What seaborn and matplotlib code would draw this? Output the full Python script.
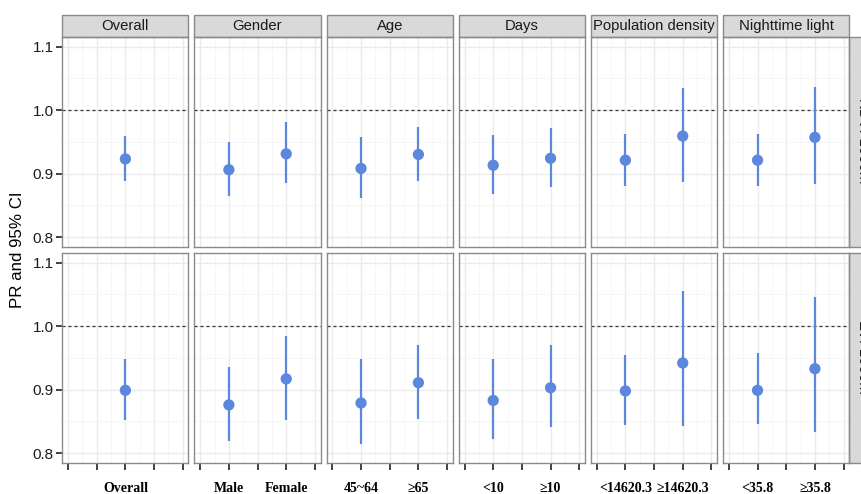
import matplotlib.pyplot as plt
import matplotlib.transforms as mtransforms
from matplotlib.patches import Rectangle
from matplotlib.ticker import FixedLocator
import numpy as np
import pandas as pd
import seaborn as sns

# panels (columns) and their subgroup levels
panels = ["Overall", "Gender", "Age", "Days", "Population density", "Nighttime light"]
levels = [["Overall"], ["Male", "Female"], ["45~64", "≥65"], ["<10", "≥10"],
          ["<14620.3", "≥14620.3"], ["<35.8", "≥35.8"]]
exposures = ["NDVI-1000m", "EVI-1000m"]

# PR and 95% CI, in the order of the flattened levels
ndvi_pr = [0.923, 0.906, 0.931, 0.908, 0.930, 0.913, 0.924, 0.921, 0.959, 0.921, 0.957]
ndvi_lo = [0.889, 0.865, 0.885, 0.861, 0.888, 0.867, 0.878, 0.880, 0.887, 0.880, 0.884]
ndvi_hi = [0.959, 0.949, 0.981, 0.958, 0.974, 0.961, 0.971, 0.963, 1.034, 0.963, 1.037]

evi_pr = [0.899, 0.876, 0.917, 0.879, 0.911, 0.883, 0.903, 0.898, 0.942, 0.899, 0.933]
evi_lo = [0.852, 0.819, 0.853, 0.815, 0.854, 0.823, 0.841, 0.844, 0.843, 0.846, 0.834]
evi_hi = [0.949, 0.936, 0.985, 0.949, 0.971, 0.949, 0.970, 0.955, 1.056, 0.957, 1.046]

values = {"NDVI-1000m": (ndvi_pr, ndvi_lo, ndvi_hi),
          "EVI-1000m": (evi_pr, evi_lo, evi_hi)}

rows = []
for exp in exposures:
    pr, lo, hi = values[exp]
    i = 0
    for p, levs in zip(panels, levels):
        n = len(levs)
        for k, lev in enumerate(levs):
            rows.append(dict(exposure=exp, panel=p, level=lev,
                             pos=3 + 2 * k - (n - 1),
                             pr=pr[i], lo=lo[i], hi=hi[i]))
            i += 1
df = pd.DataFrame(rows)

sns.set_theme(style="white")
plt.rcParams['font.family'] = ['Liberation Sans', 'DejaVu Sans']

W, H = 862, 494
fig = plt.figure(figsize=(W / 100, H / 100), dpi=100)
gs = fig.add_gridspec(2, 6, left=62.3 / W, right=849.3 / W,
                      top=1 - 37 / H, bottom=1 - 462.7 / H,
                      wspace=6 / 126, hspace=6.6 / 209.5)

col = "#5B88DC"
border = "#8a8a8a"
strip_h = 22 / 209.5

for r, exp in enumerate(exposures):
    for c, p in enumerate(panels):
        ax = fig.add_subplot(gs[r, c])
        sub = df[(df.exposure == exp) & (df.panel == p)]
        ax.vlines(sub.pos, sub.lo, sub.hi, color=col, lw=1.6, zorder=3)
        sns.scatterplot(data=sub, x="pos", y="pr", ax=ax, color=col, s=66,
                        edgecolor="none", linewidth=0, zorder=4, legend=False)
        ax.axhline(1.0, color="#333333", lw=0.9, ls=(0, (2.4, 2.4)), zorder=2)

        ax.set_xlim(0.8, 5.2)
        ax.set_ylim(0.785, 1.115)
        ax.xaxis.set_major_locator(FixedLocator([1, 2, 3, 4, 5]))
        ax.xaxis.set_minor_locator(FixedLocator([1.5, 2.5, 3.5, 4.5]))
        ax.yaxis.set_major_locator(FixedLocator([0.8, 0.9, 1.0, 1.1]))
        ax.yaxis.set_minor_locator(FixedLocator([0.85, 0.95, 1.05]))
        ax.grid(which="major", color="#EBEBEB", lw=1.0)
        ax.grid(which="minor", color="#F4F4F4", lw=0.6)
        ax.set_axisbelow(True)
        ax.set_xlabel("")
        ax.set_ylabel("")
        for s in ax.spines.values():
            s.set_color(border)
            s.set_linewidth(1.0)

        ax.tick_params(which="minor", length=0)
        if r == 1:
            ax.tick_params(axis="x", which="major", bottom=True, length=5,
                           width=1.3, color="#333333", labelbottom=False)
            trans = mtransforms.blended_transform_factory(ax.transData, fig.transFigure)
            for _, row in sub.iterrows():
                ax.text(row.pos, 1 - 491.5 / H, row.level, transform=trans,
                        ha="center", va="baseline", fontsize=10, fontweight="bold",
                        family=["Liberation Serif", "DejaVu Serif"], color="black")
        else:
            ax.tick_params(axis="x", which="major", length=0, labelbottom=False)
        if c == 0:
            ax.tick_params(axis="y", which="major", left=True, length=4.5,
                           width=1.3, color="#333333", labelsize=11,
                           labelcolor="#1a1a1a", pad=1.5)
            ax.set_yticklabels(["0.8", "0.9", "1.0", "1.1"])
        else:
            ax.tick_params(axis="y", which="major", length=0, labelleft=False)

        # top strips
        if r == 0:
            ax.add_patch(Rectangle((0, 1), 1, strip_h, transform=ax.transAxes,
                                   facecolor="#D9D9D9", edgecolor=border, lw=1.0,
                                   clip_on=False))
            ax.text(0.5, 1 + strip_h / 2, p, transform=ax.transAxes, ha="center",
                    va="center", fontsize=10.7, color="#1a1a1a")
        # right strips (cut at the figure edge, as in the source image)
        if c == 5:
            ax.add_patch(Rectangle((1, 0), 23 / 126, 1, transform=ax.transAxes,
                                   facecolor="#D9D9D9", edgecolor=border, lw=1.0,
                                   clip_on=False))
            ax.text(1 + 12 / 126, 0.5, exp, transform=ax.transAxes, ha="center",
                    va="center", rotation=270, fontsize=10.7, color="#1a1a1a")

fig.text(18 / W, 1 - 250 / H, "PR and 95% CI", rotation=90, ha="center",
         va="center", fontsize=12.2, color="black")

fig.savefig("out.png", dpi=100)
